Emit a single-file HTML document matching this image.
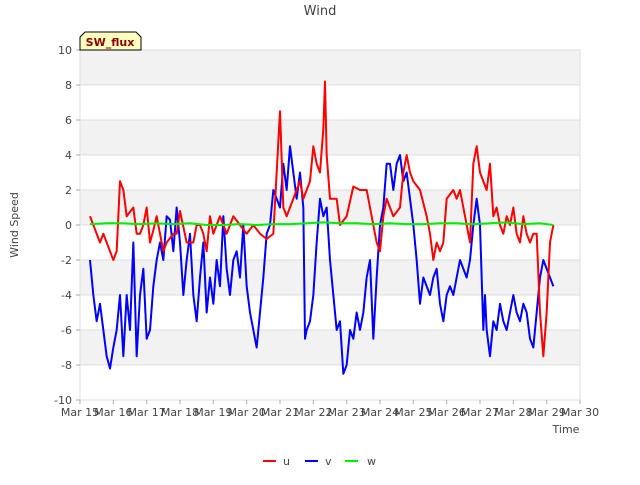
<!DOCTYPE html>
<html><head><meta charset="utf-8"><style>
body{margin:0;background:#fff;font-family:"Liberation Sans","DejaVu Sans",sans-serif}
</style></head><body>
<svg id="chart" width="640" height="480" xmlns="http://www.w3.org/2000/svg" font-family="DejaVu Sans, Liberation Sans, sans-serif">
<text x="320" y="15" text-anchor="middle" font-size="13" fill="#444">Wind</text>
<text transform="translate(18,225) rotate(-90)" text-anchor="middle" font-size="11" fill="#444">Wind Speed</text>
<text x="566" y="433" text-anchor="middle" font-size="11" fill="#444">Time</text>
<g id="bands"></g><g id="grid"></g><g id="yt"></g><g id="xt"></g><g id="series"></g>
<g>
<path d="M80,50 L80,37 L85,32 L136,32 L141,37 L141,50 Z" fill="#ffffc0" stroke="#000" stroke-width="1"/>
<text x="110" y="46" text-anchor="middle" font-size="11" font-weight="bold" fill="#8b0000">SW_flux</text>
</g>
<g>
<g><line x1="263" y1="461" x2="276" y2="461" stroke="#ff0000" stroke-width="2"/><text x="283" y="465" font-size="11" fill="#444">u</text></g>
<g><line x1="305" y1="461" x2="318" y2="461" stroke="#0000ff" stroke-width="2"/><text x="325" y="465" font-size="11" fill="#444">v</text></g>
<g><line x1="345" y1="461" x2="358" y2="461" stroke="#00ee00" stroke-width="2"/><text x="367" y="465" font-size="11" fill="#444">w</text></g>
</g>
</svg>
<script>
const xTickLabels=["Mar 15","Mar 16","Mar 17","Mar 18","Mar 19","Mar 20","Mar 21","Mar 22","Mar 23","Mar 24","Mar 25","Mar 26","Mar 27","Mar 28","Mar 29","Mar 30"];
const yTicks=[-10,-8,-6,-4,-2,0,2,4,6,8,10];
const uDays=[15.3,15.5,15.6,15.7,15.9,16.0,16.1,16.2,16.3,16.4,16.6,16.7,16.8,16.9,17.0,17.1,17.2,17.3,17.4,17.5,17.6,17.8,17.9,18.0,18.2,18.4,18.5,18.6,18.7,18.8,18.9,19.0,19.2,19.4,19.6,19.8,20.0,20.2,20.4,20.6,20.8,20.9,21.0,21.1,21.2,21.4,21.6,21.7,21.8,21.9,22.0,22.1,22.2,22.3,22.35,22.4,22.5,22.7,22.8,23.0,23.2,23.4,23.6,23.8,23.9,24.0,24.1,24.2,24.4,24.6,24.7,24.8,24.9,25.0,25.2,25.4,25.5,25.6,25.7,25.8,25.9,26.0,26.2,26.3,26.4,26.5,26.6,26.7,26.8,26.9,27.0,27.1,27.2,27.3,27.4,27.5,27.6,27.7,27.8,27.9,28.0,28.1,28.2,28.3,28.4,28.5,28.6,28.7,28.8,28.9,29.0,29.1,29.2];
const uVals=[0.5,-0.5,-1,-0.5,-1.5,-2,-1.5,2.5,2,0.5,1,-0.5,-0.5,0,1,-1,-0.3,0.5,-0.5,-1.5,-1,-0.5,-0.5,0.8,-1,-1,0,0,-0.5,-1.5,0.5,-0.5,0.5,-0.5,0.5,0,-0.5,0,-0.5,-0.8,-0.5,3,6.5,1,0.5,1.5,2.5,1.5,2,2.5,4.5,3.5,3,5.5,8.2,4,1.5,1.5,0,0.5,2.2,2,2,0,-1,-1.5,0.5,1.5,0.5,1,3,4,3,2.5,2,0.5,-0.5,-2,-1,-1.5,-1,1.5,2,1.5,2,1,0,-1,3.5,4.5,3,2.5,2,3.5,0.5,1,0,-0.5,0.5,0,1,-0.5,-1,0.5,-0.5,-1,-0.5,-0.5,-5,-7.5,-5,-1,0];
const vDays=[15.3,15.4,15.5,15.6,15.7,15.8,15.9,16.0,16.1,16.2,16.3,16.4,16.5,16.6,16.7,16.8,16.9,17.0,17.1,17.2,17.3,17.4,17.5,17.6,17.7,17.8,17.9,18.0,18.1,18.2,18.3,18.4,18.5,18.6,18.7,18.8,18.9,19.0,19.1,19.2,19.3,19.4,19.5,19.6,19.7,19.8,19.9,20.0,20.1,20.2,20.3,20.4,20.5,20.6,20.7,20.8,20.9,21.0,21.1,21.2,21.3,21.4,21.5,21.6,21.7,21.75,21.8,21.9,22.0,22.1,22.2,22.3,22.4,22.5,22.6,22.7,22.8,22.9,23.0,23.1,23.2,23.3,23.4,23.5,23.6,23.7,23.8,23.9,24.0,24.1,24.2,24.3,24.4,24.5,24.6,24.7,24.8,24.9,25.0,25.1,25.2,25.3,25.4,25.5,25.6,25.7,25.8,25.9,26.0,26.1,26.2,26.3,26.4,26.5,26.6,26.7,26.8,26.9,27.0,27.1,27.15,27.2,27.3,27.4,27.5,27.6,27.7,27.8,27.9,28.0,28.1,28.2,28.3,28.4,28.5,28.6,28.7,28.8,28.9,29.0,29.1,29.2];
const vVals=[-2,-4,-5.5,-4.5,-6,-7.5,-8.2,-7,-6,-4,-7.5,-4,-6,-1,-7.5,-4,-2.5,-6.5,-6,-3.5,-2,-1,-2,0.5,0.3,-1.5,1,-1,-4,-2,-0.5,-4,-5.5,-3,-1,-5,-3,-4.5,-2,-3.5,0.5,-2.5,-4,-2,-1.5,-3,0,-3.5,-5,-6,-7,-5,-3,-0.5,0,2,1.5,1,3.5,2,4.5,3,1.5,3,1,-6.5,-6,-5.5,-4,-1,1.5,0.5,1,-2,-4,-6,-5.5,-8.5,-8,-6,-6.5,-5,-6,-5,-3,-2,-6.5,-3,0,1,3.5,3.5,2,3.5,4,2.5,3,1.5,0,-2,-4.5,-3,-3.5,-4,-3,-2.5,-4.5,-5.5,-4,-3.5,-4,-3,-2,-2.5,-3,-2,0,1.5,0,-6,-4,-6,-7.5,-5.5,-6,-4.5,-5.5,-6,-5,-4,-5,-5.5,-4.5,-5,-6.5,-7,-5,-3,-2,-2.5,-3,-3.5];
const wDays=[15.3,15.8,16.3,16.8,17.3,17.8,18.3,18.8,19.3,19.8,20.3,20.8,21.3,21.8,22.3,22.8,23.3,23.8,24.3,24.8,25.3,25.8,26.3,26.8,27.3,27.8,28.3,28.8,29.2];
const wVals=[0.05,0.1,0.1,0.05,0.1,0.05,0.1,0.0,0.0,0.05,0.0,0.05,0.05,0.1,0.15,0.1,0.1,0.05,0.1,0.05,0.05,0.1,0.1,0.05,0.1,0.15,0.05,0.1,0.0];
const L=80,R=580,T=50,B=400;
const xs=d=>L+(d-15)*(R-L)/15;
const ys=v=>B-(v+10)*(B-T)/20;
const NS="http://www.w3.org/2000/svg";
function mk(tag,attrs,parent){const e=document.createElementNS(NS,tag);for(const k in attrs)e.setAttribute(k,attrs[k]);document.getElementById(parent).appendChild(e);return e;}
for(let v=-10;v<10;v+=2){ if(((v+10)/2)%2===1){const r=mk('rect',{x:L,y:ys(v+2),width:R-L,height:ys(v)-ys(v+2),fill:'#f2f2f2'},'bands');}}
mk('rect',{x:L,y:T,width:R-L,height:B-T,fill:'none',stroke:'#ddd'},'bands');
yTicks.forEach(v=>{const g=mk('line',{x1:L,x2:R,y1:ys(v),y2:ys(v),stroke:'#ddd'},'grid');
mk('line',{x1:L-4,x2:L,y1:ys(v),y2:ys(v),stroke:'#aaa'},'yt');
const t=mk('text',{x:L-8,y:ys(v)+4,'text-anchor':'end','font-size':11,fill:'#444'},'yt');t.textContent=v;});
xTickLabels.forEach((s,i)=>{const x=xs(15+i);
mk('line',{x1:x,x2:x,y1:B,y2:B+4,stroke:'#aaa'},'xt');
const t=mk('text',{x:x,y:B+16,'text-anchor':'middle','font-size':11,fill:'#444'},'xt');t.textContent=s;});
function line(ds,vs,col,name){const p=mk('polyline',{points:ds.map((d,i)=>xs(d)+','+ys(vs[i])).join(' '),fill:'none',stroke:col,'stroke-width':2,'stroke-linejoin':'round'},'series');}
line(vDays,vVals,'#0000ff','v-series-line');
line(uDays,uVals,'#ff0000','u-series-line');
line(wDays,wVals,'#00ee00','w-series-line');
</script>
</body></html>
